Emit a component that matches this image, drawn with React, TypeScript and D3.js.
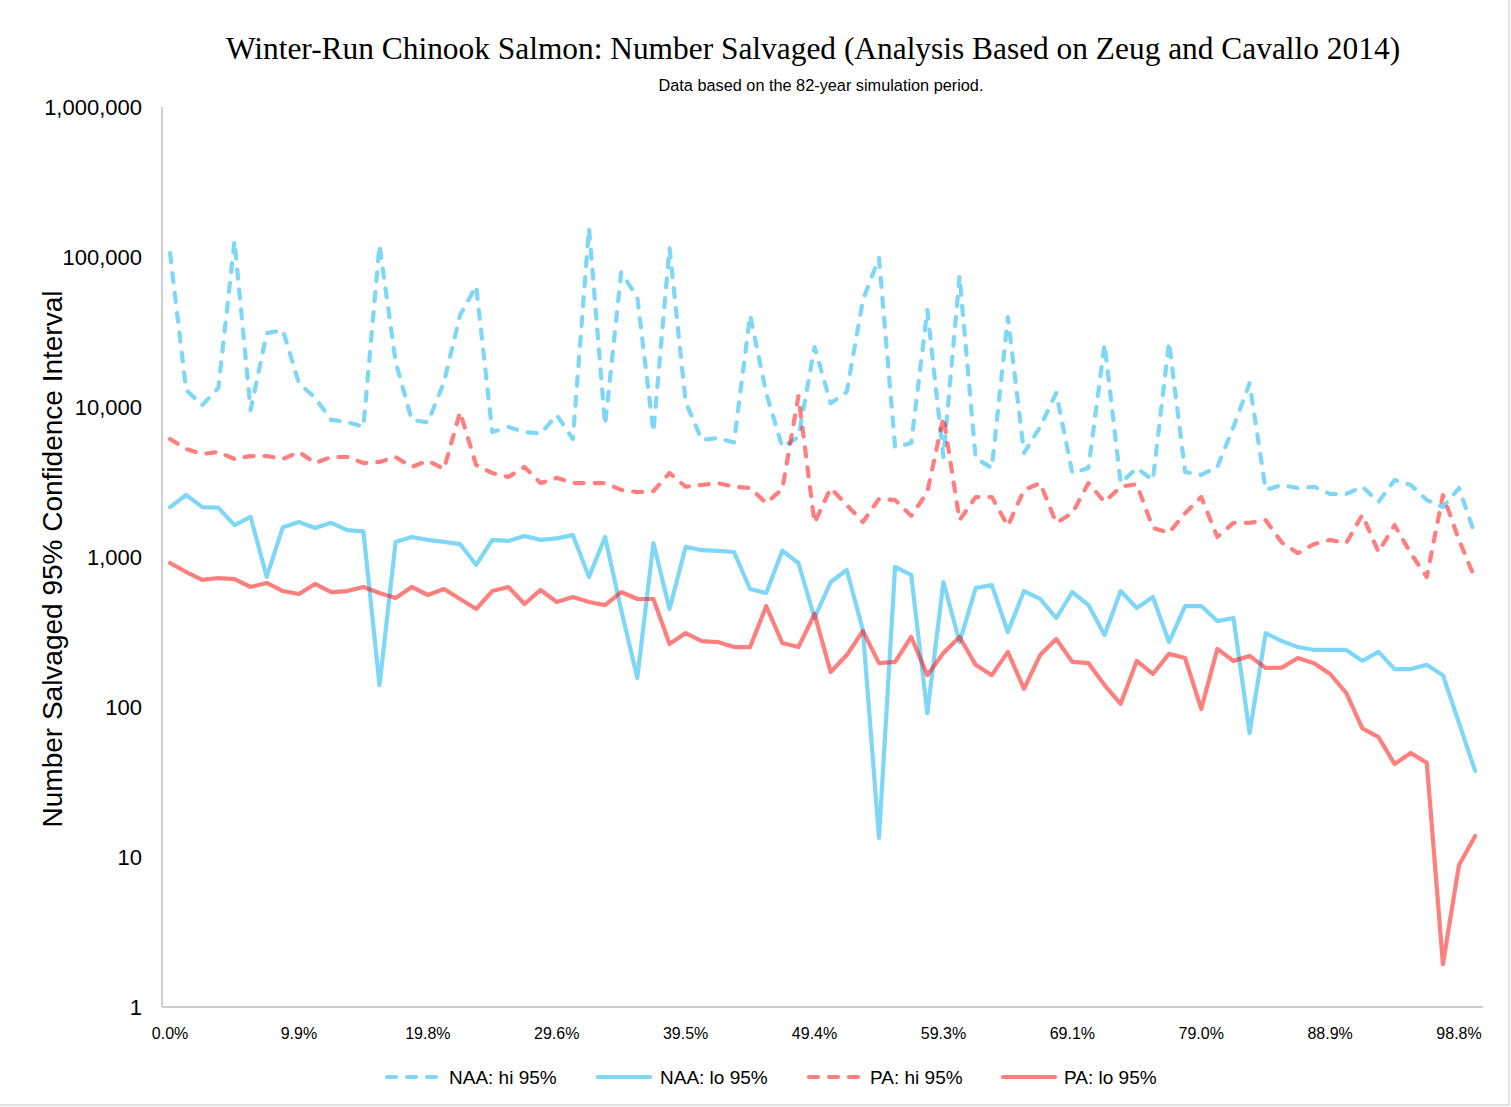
import React from "react";
import * as d3 from "d3";

const naaHi = [106000, 13000, 10300, 13400, 128000, 9550, 31000, 32600, 14400, 11500, 8200, 7950, 7360, 120000,
  20000, 8200, 7900, 14600, 41000, 64000, 6800, 7360, 6800, 6650, 8850, 6120, 156000, 7600,
  79000, 54000, 6800, 115000, 10800, 6030, 6210, 5800, 41000, 12400, 5400, 6300, 25100, 10600,
  12600, 51600, 98500, 5400, 5750, 44300, 4640, 74700, 4570, 3920, 39800, 4930, 7360, 12400,
  3630, 3920, 26300, 3110, 3920, 3260, 27100, 3690, 3530, 3980, 7360, 14400, 2800, 3020,
  2880, 2940, 2630, 2630, 2940, 2330, 3260, 3020, 2400, 2150, 2880, 1400];

const naaLo = [2150, 2590, 2150, 2130, 1630, 1850, 736, 1580, 1710, 1560, 1690, 1510, 1480, 140,
  1260, 1360, 1300, 1260, 1220, 885, 1300, 1280, 1380, 1300, 1330, 1400, 736, 1360,
  443, 156, 1240, 450, 1170, 1110, 1100, 1080, 612, 575, 1100, 912, 392, 681,
  819, 326, 13.4, 858, 759, 91, 681, 271, 621, 650, 316, 593, 525, 392,
  584, 478, 302, 593, 457, 541, 271, 471, 471, 374, 392, 67, 311, 275,
  251, 240, 240, 240, 203, 233, 179, 179, 191, 163, 78, 37.5];

const paHi = [6120, 5250, 4860, 5010, 4500, 4710, 4710, 4500, 5010, 4230, 4640, 4640, 4230, 4300,
  4640, 3980, 4380, 3860, 9260, 4100, 3630, 3420, 3980, 3110, 3370, 3110, 3110, 3110,
  2800, 2710, 2750, 3630, 2940, 3020, 3110, 2940, 2880, 2290, 2840, 11800, 1690, 2880,
  2220, 1710, 2440, 2400, 1880, 2710, 8580, 1760, 2510, 2510, 1610, 2800, 3110, 1690,
  1960, 3110, 2330, 2940, 3060, 1560, 1450, 1960, 2510, 1360, 1690, 1690, 1760, 1250,
  1060, 1220, 1300, 1240, 1910, 1080, 1630, 1060, 736, 2590, 1300, 713];

const paLo = [912, 794, 703, 724, 713, 631, 671, 593, 567, 661, 584, 593, 631, 575,
  533, 631, 558, 612, 525, 450, 593, 631, 486, 603, 501, 541, 501, 478,
  584, 525, 525, 263, 311, 275, 271, 251, 251, 471, 267, 251, 417, 171,
  222, 321, 196, 200, 293, 163, 229, 293, 191, 163, 233, 132, 222, 284,
  200, 196, 140, 105, 203, 166, 226, 212, 97, 244, 203, 219, 182, 183,
  212, 196, 166, 124, 72, 63, 41.7, 49.4, 42.4, 1.93, 8.85, 13.8];

const categories = naaHi.map((_, i) => i);
const xTickIndex = [0, 8, 16, 24, 32, 40, 48, 56, 64, 72, 80];
const xTickLabels = ["0.0%", "9.9%", "19.8%", "29.6%", "39.5%", "49.4%", "59.3%", "69.1%", "79.0%", "88.9%", "98.8%"];
const yTickValues = [1, 10, 100, 1000, 10000, 100000, 1000000];
const yTickLabels = ["1", "10", "100", "1,000", "10,000", "100,000", "1,000,000"];

const seriesNames = ["NAA: hi 95%", "NAA: lo 95%", "PA: hi 95%", "PA: lo 95%"];
const seriesData = [naaHi, naaLo, paHi, paLo];

const BLUE = "#00B0F0";
const RED = "#FF0000";
const styles = [
  { color: BLUE, dash: "9,11" },
  { color: BLUE, dash: "" },
  { color: RED, dash: "9,11" },
  { color: RED, dash: "" },
];

export default function App() {
  const W = 1511, H = 1107;
  const x = d3.scaleBand<number>().domain(categories).range([162, 1483.2]);
  const y = d3.scaleLog().domain([1, 1000000]).range([1007, 107]);
  const cx = (i: number) => (x(i) as number) + x.bandwidth() / 2;
  const line = d3.line<number>().x((_, i) => cx(i)).y((d) => y(d));
  const sans = "'Liberation Sans', Arial, sans-serif";

  const legendItems = [
    { lx: 385, tx: 449 },
    { lx: 596, tx: 660 },
    { lx: 807, tx: 870 },
    { lx: 1001, tx: 1064 },
  ];

  return (
    <svg width={W} height={H} style={{ position: "absolute", left: 0, top: 0, background: "#fff" }}>
      <rect x={0} y={0} width={W} height={H} fill="#fff" />
      <rect x={-1} y={-1} width={1510} height={1106} fill="none" stroke="#D9D9D9" strokeWidth={1.5} />
      <text x={813} y={59} textAnchor="middle" fontFamily="'Liberation Serif', 'Times New Roman', serif" fontSize={31.4} fill="#000">
        Winter-Run Chinook Salmon: Number Salvaged (Analysis Based on Zeug and Cavallo 2014)
      </text>
      <text x={821} y={91} textAnchor="middle" fontFamily={sans} fontSize={16.3} fill="#000">
        Data based on the 82-year simulation period.
      </text>

      <line x1={162} y1={107} x2={162} y2={1007} stroke="#BFBFBF" strokeWidth={1.5} />
      <line x1={162} y1={1007} x2={1483} y2={1007} stroke="#BFBFBF" strokeWidth={1.5} />

      {yTickValues.map((v, i) => (
        <text key={v} x={142} y={y(v)} dy="0.35em" textAnchor="end" fontFamily={sans} fontSize={22} fill="#000">
          {yTickLabels[i]}
        </text>
      ))}
      {xTickIndex.map((idx, i) => (
        <text key={idx} x={cx(idx)} y={1039} textAnchor="middle" fontFamily={sans} fontSize={16} fill="#000">
          {xTickLabels[i]}
        </text>
      ))}
      <text transform="translate(62,559) rotate(-90)" textAnchor="middle" fontFamily={sans} fontSize={28} fill="#000">
        Number Salvaged 95% Confidence Interval
      </text>

      {seriesData.map((d, k) => (
        <path key={k} d={line(d) || ""} fill="none" stroke={styles[k].color} strokeOpacity={0.5}
          strokeWidth={4.2} strokeDasharray={styles[k].dash || undefined} strokeLinecap="round" strokeLinejoin="round" />
      ))}

      {legendItems.map((it, k) => (
        <g key={k}>
          <line x1={it.lx + 2} y1={1077} x2={it.lx + 54} y2={1077} stroke={styles[k].color} strokeOpacity={0.5}
            strokeWidth={4.2} strokeDasharray={styles[k].dash || undefined} strokeLinecap="round" />
          <text x={it.tx} y={1077} dy="0.35em" fontFamily={sans} fontSize={19} fill="#000">
            {seriesNames[k]}
          </text>
        </g>
      ))}
    </svg>
  );
}
